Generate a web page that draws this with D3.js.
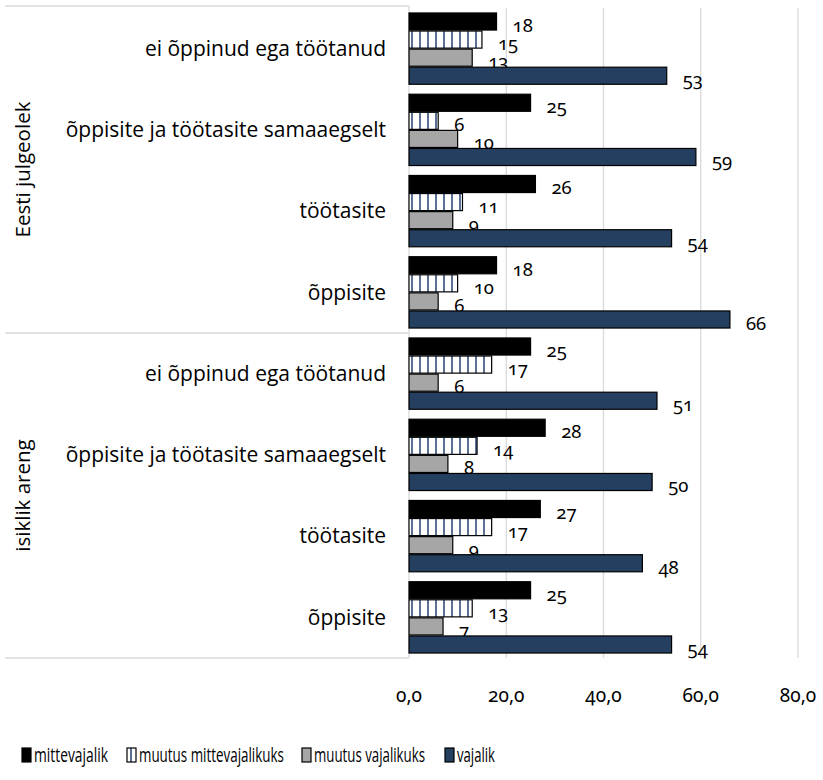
<!DOCTYPE html>
<html><head><meta charset="utf-8">
<script src="https://cdn.jsdelivr.net/npm/d3@7"></script>
<style>
body{margin:0;background:#fff;}
svg{display:block;}
.num{font-family:"Noto Sans","Open Sans",sans-serif;font-feature-settings:"onum" 1;font-variant-numeric:oldstyle-nums;font-weight:400;}
.lbl{font-family:"Open Sans","Noto Sans",sans-serif;font-weight:400;}
</style>
</head><body>
<script>
const groups = ["Eesti julgeolek", "isiklik areng"];
const categories = ["ei õppinud ega töötanud", "õppisite ja töötasite samaaegselt", "töötasite", "õppisite"];
const seriesNames = ["mittevajalik", "muutus mittevajalikuks", "muutus vajalikuks", "vajalik"];
const mittevajalik = [18, 25, 26, 18, 25, 28, 27, 25];
const muutusMittevajalikuks = [15, 6, 11, 10, 17, 14, 17, 13];
const muutusVajalikuks = [13, 10, 9, 6, 6, 8, 9, 7];
const vajalik = [53, 59, 54, 66, 51, 50, 48, 54];
const xTicks = [0, 20, 40, 60, 80];

const seriesValues = [mittevajalik, muutusMittevajalikuks, muutusVajalikuks, vajalik];
const W = 823, H = 780;
const svg = d3.select("body").append("svg").attr("width", W).attr("height", H);

const defs = svg.append("defs");
const pat = defs.append("pattern").attr("id","stripes").attr("patternUnits","userSpaceOnUse")
  .attr("width",8).attr("height",8);
pat.append("rect").attr("width",8).attr("height",8).attr("fill","#fff");
pat.append("rect").attr("x",3).attr("width",2).attr("height",8).attr("fill","#5b7193");

const fills = ["#000000", "url(#stripes)", "#a6a6a6", "#243f60"];

const rows = [];
groups.forEach((g, gi) => categories.forEach((c, ci) => rows.push({g, c, i: gi*categories.length + ci})));

const x = d3.scaleLinear().domain([0, 80]).range([409, 798]);
const y = d3.scaleBand().domain(rows.map(r => r.i)).range([8, 658]).paddingInner(0.11).paddingOuter(0.055);
const ys = d3.scaleBand().domain(d3.range(seriesNames.length)).range([0, y.bandwidth()]);

// gridlines
svg.append("g").selectAll("line").data(xTicks.filter(t => t > 0)).join("line")
  .attr("x1", d => x(d)).attr("x2", d => x(d)).attr("y1", 8).attr("y2", 658)
  .attr("stroke", "#d9d9d9").attr("stroke-width", 1.3);
// axis line
svg.append("line").attr("x1", x(0)).attr("x2", x(0)).attr("y1", 6).attr("y2", 658)
  .attr("stroke", "#d9d9d9").attr("stroke-width", 1.3);
// group separator lines
const groupEdges = [6, (y(categories.length - 1) + y.bandwidth() + y(categories.length)) / 2, 658];
svg.append("g").selectAll("line").data(groupEdges).join("line")
  .attr("x1", 5).attr("x2", x(0)).attr("y1", d => d).attr("y2", d => d)
  .attr("stroke", "#d9d9d9").attr("stroke-width", 1.3);

// bars and labels, series by series (later bars cover earlier labels)
seriesValues.forEach((vals, si) => {
  const data = rows.map(r => ({r, si, v: vals[r.i]}));
  const g = svg.append("g");
  g.selectAll("rect").data(data).join("rect")
    .attr("x", x(0)).attr("y", d => y(d.r.i) + ys(si) + 0.5)
    .attr("width", d => x(d.v) - x(0)).attr("height", ys.bandwidth() - 1)
    .attr("fill", fills[si]).attr("stroke", "#000").attr("stroke-width", 1.2);
  g.selectAll("text").data(data).join("text")
    .attr("class", "num")
    .attr("x", d => x(d.v) + 16).attr("y", d => y(d.r.i) + ys(si) + ys.bandwidth()/2 + 4)
    .attr("dy", "0.35em").attr("font-size", 18.5).attr("fill", "#000")
    .text(d => d.v);
});

// category labels
svg.append("g").selectAll("text").data(rows).join("text")
  .attr("class", "lbl")
  .attr("x", 386).attr("y", d => y(d.i) + y.bandwidth()/2).attr("dy", "0.35em")
  .attr("text-anchor", "end").attr("font-size", 21).attr("fill", "#000")
  .text(d => d.c);

// group labels
groups.forEach((g, gi) => {
  const cy = (groupEdges[gi] + groupEdges[gi+1]) / 2;
  svg.append("text").attr("class", "lbl")
    .attr("transform", `translate(23,${cy}) rotate(-90)`)
    .attr("text-anchor", "middle").attr("dy", "0.35em").attr("font-size", 20.5)
    .text(g);
});

// x axis tick labels
svg.append("g").selectAll("text").data(xTicks).join("text")
  .attr("class", "num")
  .attr("x", d => x(d)).attr("y", 695).attr("dy", "0.35em").attr("text-anchor", "middle")
  .attr("font-size", 19).text(d => d3.format(".1f")(d).replace(".", ","));

// legend
const legX = [22, 127, 302, 445];
const legW = [74, 145, 111, 38];
const lg = svg.append("g").selectAll("g").data(seriesNames).join("g")
  .attr("transform", (d, i) => `translate(${legX[i]},755)`);
lg.append("rect").attr("x", 0).attr("y", -7).attr("width", 9).attr("height", 14)
  .attr("fill", (d, i) => fills[i]).attr("stroke", "#000").attr("stroke-width", 1.2);
lg.append("text").attr("class", "lbl").attr("dy", "0.35em").attr("font-size", 20)
  .text(d => d)
  .each(function(d, i) {
    const w = this.getComputedTextLength();
    const s = legW[i] / w;
    d3.select(this).attr("transform", `translate(12,0) scale(${s},1)`);
  });
</script>
</body></html>
